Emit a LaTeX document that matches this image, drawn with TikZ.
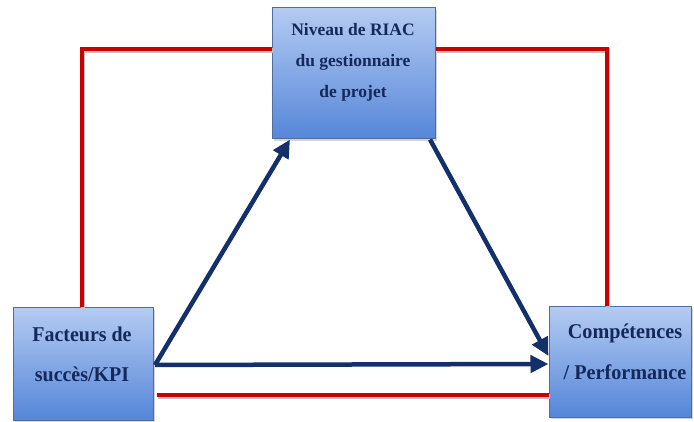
\documentclass[tikz,border=0pt]{standalone}
\usepackage{fontspec}
\setmainfont{Liberation Serif}
\usetikzlibrary{arrows.meta,shadows}
\definecolor{boxTop}{HTML}{B4CBF2}
\definecolor{boxBot}{HTML}{5586D8}
\definecolor{boxEdge}{HTML}{4F6E9E}
\definecolor{txtNavy}{HTML}{15285A}
\definecolor{linkRed}{HTML}{C80000}
\definecolor{arrowNavy}{HTML}{14306A}
\tikzset{
  box/.style={draw=boxEdge, line width=1pt, top color=boxTop, bottom color=boxBot,
    middle color=boxTop!50!boxBot, drop shadow={opacity=0.35, shadow xshift=2pt, shadow yshift=-2pt},
    inner sep=0pt},
  lbl/.style={align=center, text=txtNavy, font=\bfseries, inner sep=0pt},
  redlink/.style={draw=linkRed, line width=4.5pt, line cap=butt,
    preaction={draw=black!25, line width=4.5pt, transform canvas={xshift=1pt,yshift=-1.5pt}}},
  bluearrow/.style={draw=arrowNavy, line width=4.5pt, -{Triangle[length=18pt,width=17pt]}}
}
\begin{document}
\begin{tikzpicture}[x=1pt,y=-1pt]
\useasboundingbox (0,0) rectangle (694,422);

% corner points of the red links
\coordinate (tlc) at (82,49);
\coordinate (trc) at (607,49);
\coordinate (bly) at (157,395);

% boxes
\node[box, minimum width=163pt, minimum height=131pt] (top) at (353.5,73.5) {};
\node[box, minimum width=140pt, minimum height=112pt] (left) at (83,364) {};
\node[box, minimum width=142pt, minimum height=110pt] (right) at (620,362) {};

% red links
\draw[redlink] (left.north -| tlc) -- (tlc) -- (top.west |- tlc);
\draw[redlink] (top.east |- trc) -- (trc) -- (right.north -| trc);
\draw[redlink] (bly) -- (right.west |- bly);

% texts
\node[lbl, font=\bfseries\fontsize{17.5}{31}\selectfont] (topTxt) at (353,62)
  {Niveau de RIAC\\du gestionnaire\\de projet};
\node[lbl, font=\bfseries\fontsize{21}{40}\selectfont] (leftTxt) at (82,354)
  {\scalebox{0.95}[1]{Facteurs de}\\\scalebox{0.95}[1]{succès/KPI}};
\node[lbl, font=\bfseries\fontsize{21}{41}\selectfont] (rightTxt) at (625,352)
  {\scalebox{0.96}[1]{Compétences}\\\scalebox{0.96}[1]{/ Performance}};

% blue arrows
\coordinate (lout) at (155,365);
\draw[bluearrow] (lout) -- (top.south -| 290,0);
\draw[bluearrow] (lout) -- (right.west |- 0,364);
\draw[bluearrow] (top.south -| 430,0) -- (right.west |- 0,356);
\end{tikzpicture}
\end{document}
